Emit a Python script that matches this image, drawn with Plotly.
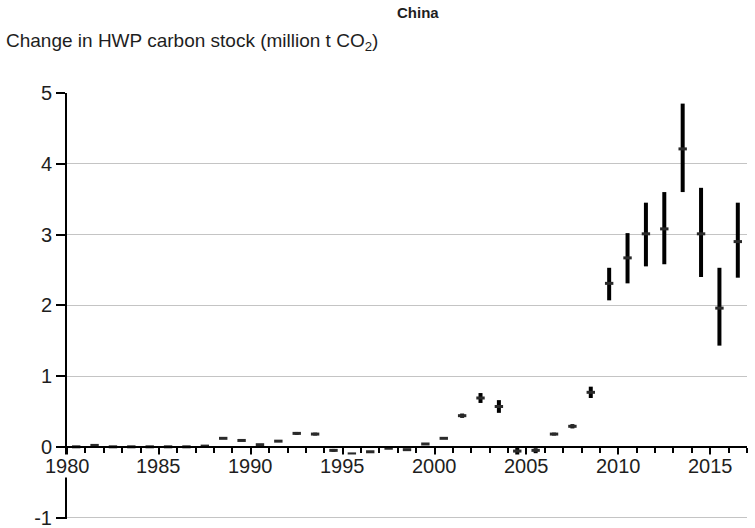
import plotly.graph_objects as go

# Annual change in harvested wood products (HWP) carbon stock, China
years = list(range(1980, 2017))
change = [0.00, 0.02, 0.00, 0.00, 0.00, 0.00, 0.00, 0.01, 0.12, 0.09,
          0.03, 0.08, 0.19, 0.18, -0.05, -0.10, -0.07, -0.02, -0.04, 0.04,
          0.12, 0.44, 0.69, 0.57, -0.06, -0.05, 0.18, 0.29, 0.77, 2.31,
          2.67, 3.01, 3.08, 4.21, 3.01, 1.96, 2.90]
upper = [0.00, 0.03, 0.00, 0.00, 0.00, 0.00, 0.00, 0.01, 0.12, 0.09,
         0.03, 0.08, 0.21, 0.20, -0.03, -0.10, -0.07, -0.02, -0.04, 0.04,
         0.12, 0.47, 0.76, 0.66, 0.01, -0.02, 0.20, 0.32, 0.85, 2.53,
         3.02, 3.45, 3.60, 4.85, 3.66, 2.53, 3.45]
lower = [0.00, 0.01, 0.00, 0.00, 0.00, 0.00, 0.00, 0.01, 0.12, 0.09,
         0.03, 0.08, 0.17, 0.16, -0.07, -0.10, -0.07, -0.02, -0.04, 0.04,
         0.12, 0.41, 0.62, 0.48, -0.13, -0.09, 0.16, 0.26, 0.69, 2.07,
         2.31, 2.55, 2.58, 3.60, 2.40, 1.43, 2.39]

x_labels = [1980, 1985, 1990, 1995, 2000, 2005, 2010, 2015]
y_ticks = [-1, 0, 1, 2, 3, 4, 5]
y_labels = ["-1", "0", "1", "2", "3", "4", "5"]

title_text = "China"
y_title = "Change in HWP carbon stock (million t CO<sub>2</sub>)"

FONT = "Liberation Sans"
INK = "#1e1e1e"

# each year's value is centred between its tick marks
x_pos = [y + 0.5 for y in years]
err_plus = [u - c for u, c in zip(upper, change)]
err_minus = [c - l for c, l in zip(change, lower)]

fig = go.Figure()
fig.add_trace(go.Scatter(
    x=x_pos, y=change, mode="markers",
    marker=dict(symbol="line-ew", size=6, line=dict(width=3, color="#2a2a2a")),
    error_y=dict(type="data", symmetric=False, array=err_plus,
                 arrayminus=err_minus, thickness=4, width=0, color="black"),
    showlegend=False, hoverinfo="x+y",
))

# a hair of padding below -1 keeps its grid line from being clipped
y_min, y_max = -1.02, 5
fig.update_layout(
    width=755, height=528,
    margin=dict(l=67, r=8, t=93, b=9, autoexpand=False),
    paper_bgcolor="white", plot_bgcolor="white",
    font=dict(family=FONT, size=19, color=INK),
    xaxis=dict(
        range=[1980, 2017], anchor="free",
        position=(0 - y_min) / (y_max - y_min), automargin=False,
        showline=True, linecolor="black", linewidth=2,
        tickmode="array", tickvals=x_labels, showticklabels=False,
        ticks="outside", ticklen=10, tickwidth=2, tickcolor="black",
        minor=dict(tick0=1980, dtick=1, ticks="outside", ticklen=5,
                   tickwidth=1.5, tickcolor="black", showgrid=False),
        showgrid=False, zeroline=False,
    ),
    yaxis=dict(
        range=[y_min, y_max], domain=[0, 1], automargin=False,
        tickmode="array", tickvals=y_ticks, ticktext=y_labels,
        ticks="outside", ticklen=9, tickwidth=2, tickcolor="black",
        showline=True, linecolor="black", linewidth=2,
        showgrid=True, gridcolor="#c4c4c4", gridwidth=1,
        zeroline=False, tickfont=dict(size=20, color=INK),
        ticklabeloverflow="allow",
    ),
)

# year labels sit on a white ground so the vertical axis breaks behind them
for yr in x_labels:
    fig.add_annotation(
        x=yr, y=0, xref="x", yref="y", text=str(yr), showarrow=False,
        yanchor="top", yshift=-7, bgcolor="white", borderpad=0,
        font=dict(size=20, color=INK),
    )

fig.add_annotation(
    x=0.516, y=1.19, xref="paper", yref="paper", text=f"<b>{title_text}</b>",
    showarrow=False, xanchor="center", yanchor="middle",
    font=dict(size=15, color=INK),
)
fig.add_annotation(
    x=-0.092, y=1.12, xref="paper", yref="paper", text=y_title,
    showarrow=False, xanchor="left", yanchor="middle",
    font=dict(size=19, color=INK),
)

fig.write_html("out.html")
